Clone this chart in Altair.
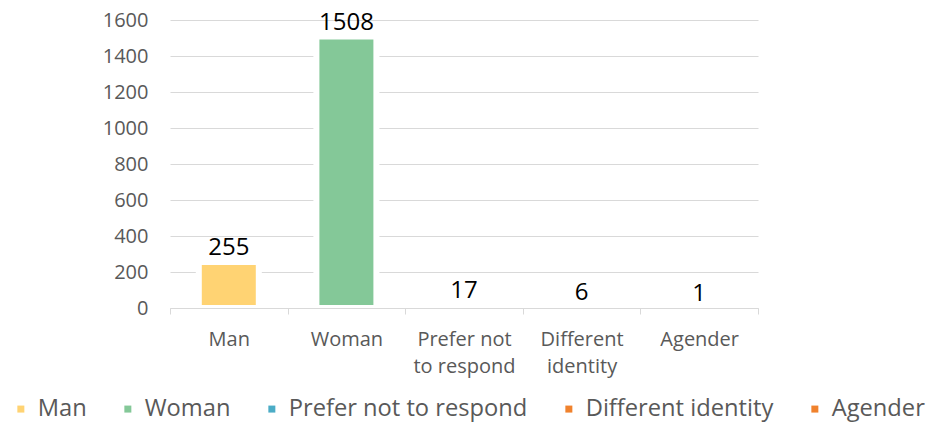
import altair as alt
import pandas as pd

categories = ["Man", "Woman", "Prefer not to respond", "Different identity", "Agender"]
counts = [255, 1508, 17, 6, 1]
colors = ["#FFD373", "#84C898", "#4BACC6", "#F0822D", "#F0822D"]
y_ticks = [0, 200, 400, 600, 800, 1000, 1200, 1400, 1600]

df = pd.DataFrame({"category": categories, "count": counts})

FONT = "Open Sans"
GRAY = "#595959"
GRID = "#D9D9D9"

label_expr = (
    "datum.label == 'Prefer not to respond' ? ['Prefer not', 'to respond'] : "
    "datum.label == 'Different identity' ? ['Different', 'identity'] : datum.label"
)

x = alt.X(
    "category:N",
    sort=categories,
    title=None,
    scale=alt.Scale(paddingInner=0, paddingOuter=0),
    axis=alt.Axis(
        labelAngle=0,
        labelFont=FONT,
        labelFontSize=20,
        labelColor=GRAY,
        labelLineHeight=27,
        labelPadding=15,
        labelExpr=label_expr,
        labelLimit=300,
        domainColor=GRID,
        tickColor=GRID,
        tickSize=6,
        tickBand="extent",
        grid=False,
        zindex=1,
    ),
)

y = alt.Y(
    "count:Q",
    title=None,
    scale=alt.Scale(domain=[0, 1600], nice=False),
    axis=alt.Axis(
        values=y_ticks,
        format="d",
        labelOverlap=False,
        labelFont=FONT,
        labelFontSize=20,
        labelColor=GRAY,
        labelPadding=22,
        tickSize=0,
        domain=False,
        grid=True,
        gridColor=GRID,
        gridWidth=1,
        zindex=0,
    ),
)

color = alt.Color(
    "category:N",
    sort=categories,
    scale=alt.Scale(domain=categories, range=colors),
    legend=alt.Legend(
        title=None,
        orient="none",
        legendX=-161,
        legendY=377,
        direction="horizontal",
        columns=5,
        columnPadding=29,
        symbolType="square",
        symbolSize=49,
        symbolStrokeWidth=0,
        labelOffset=5,
        labelFont=FONT,
        labelFontSize=23.7,
        labelColor=GRAY,
        labelLimit=400,
        padding=0,
    ),
)

base = alt.Chart(df).encode(x=x, y=y)

bars = base.mark_bar(size=60, stroke="white", strokeWidth=6).encode(color=color)

labels = base.mark_text(
    dy=-7, baseline="alphabetic", font=FONT, fontSize=24, color="#000000"
).encode(text="count:Q")

chart = (
    alt.layer(bars, labels)
    .properties(
        width=588,
        height=288,
        background="white",
        autosize=alt.AutoSizeParams(type="none"),
        padding={"left": 162, "top": 12, "right": 170, "bottom": 114},
    )
    .configure_view(stroke="transparent", strokeWidth=0)
)

chart.save("out.html", embed_options={"renderer": "svg", "actions": False})
